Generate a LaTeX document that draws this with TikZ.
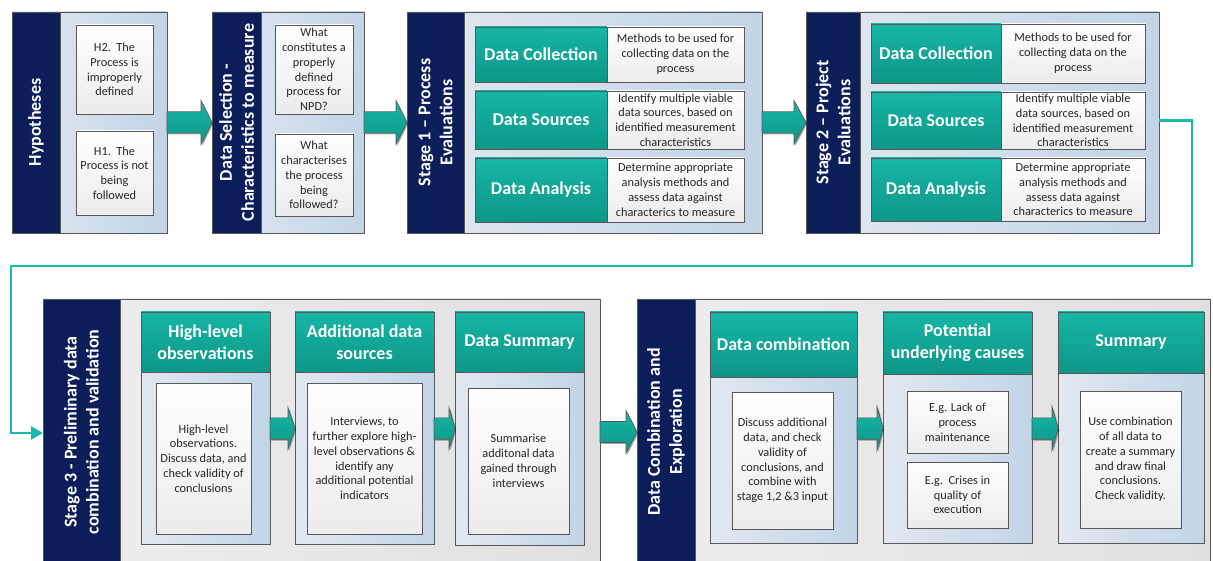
\documentclass[tikz,border=0pt]{standalone}
\usepackage{fontspec}
\setmainfont{Carlito}
\usetikzlibrary{calc,shadows,arrows.meta}
\definecolor{navy}{RGB}{12,30,90}
\definecolor{tealT}{RGB}{22,182,166}
\definecolor{tealB}{RGB}{13,150,135}
\definecolor{panL}{RGB}{226,232,240}
\definecolor{panR}{RGB}{194,212,231}
\definecolor{grayL}{RGB}{238,238,238}
\definecolor{grayR}{RGB}{224,224,224}
\definecolor{edge}{RGB}{88,88,88}
\definecolor{link}{RGB}{26,186,171}
\definecolor{wbot}{RGB}{236,236,236}
% #1 style, #2 name, #3 x1, #4 y1, #5 x2, #6 y2, #7 text
\newcommand\mybox[7]{%
  \node[#1, minimum width={(#5-#3)*1pt}, minimum height={(#6-#4)*1pt}] (#2) at ({(#3+#5)/2},{(#4+#6)/2}) {#7};}
\newcommand\blockarr[6]{%
  \path[barrow] ($(#1.east|-#3)+(0,#4)$) -- ($(#2.west|-#3)+(-#6,#4)$) -- ($(#2.west|-#3)+(-#6,#5)$) -- (#2.west|-#3) -- ($(#2.west|-#3)+(-#6,-#5)$) -- ($(#2.west|-#3)+(-#6,-#4)$) -- ($(#1.east|-#3)+(0,-#4)$) -- cycle;}
\tikzset{
  shd/.style={drop shadow={shadow xshift=1.3pt, shadow yshift=-1.3pt, opacity=0.35, fill=black}},
  box/.style={inner sep=0pt, outer sep=0pt, draw=edge, line width=0.8pt},
  outer/.style={box, left color=panL, right color=panR, shd},
  gouter/.style={box, left color=grayL, right color=grayR, shd},
  band/.style={box, fill=navy},
  vlab/.style={rotate=90, text=white, font=\bfseries\fontsize{18}{22}\selectfont, align=center, inner sep=0pt},
  tealbox/.style={box, top color=tealT, bottom color=tealB, text=white, font=\bfseries\fontsize{18}{22}\selectfont, align=center, shd},
  wbox/.style={box, top color=white, bottom color=wbot, font=\fontsize{12.3}{14.8}\selectfont, align=center, text=black!85, shd},
  colbody/.style={box, left color=panL, right color=panR, shd},
  barrow/.style={top color=tealT, bottom color=tealB, draw=edge, line width=0.6pt, shd},
  link/.style={draw=link, line width=2.7pt, -{Triangle[length=12pt,width=13pt]}}
}
\begin{document}
\begin{tikzpicture}[x=1pt,y=-1pt]
\useasboundingbox (0,0) rectangle (1213,561);
% ---------- top row ----------
% Hypotheses
\mybox{outer}{hyp}{12}{12}{167}{233}{}
\mybox{band}{hypB}{12}{12}{60}{233}{}
\node[vlab] (hypL) at (hypB.center) {Hypotheses};
\mybox{wbox}{h2}{76}{25}{153}{114}{H2.\ \ The\\Process is\\improperly\\defined}
\mybox{wbox}{h1}{76}{131}{153}{215}{H1.\ \ The\\Process is not\\being\\followed}
% Data selection
\mybox{outer}{dsel}{212}{12}{364}{233}{}
\mybox{band}{dselB}{212}{12}{261}{233}{}
\node[vlab] (dselL) at (dselB.center) {Data Selection -\\Characteristics to measure};
\mybox{wbox}{q1}{275}{25}{353}{114}{What\\constitutes a\\properly\\defined\\process for\\NPD?}
\mybox{wbox}{q2}{275}{134}{353}{216}{What\\characterises\\the process\\being\\followed?}
% Stage 1
\mybox{outer}{s1}{407}{12}{762}{233}{}
\mybox{band}{s1B}{407}{12}{464}{233}{}
\node[vlab] (s1L) at (s1B.center) {Stage 1 – Process\\Evaluations};
\mybox{tealbox}{s1dc}{475}{27}{607}{82}{Data Collection}
\mybox{wbox}{s1dcw}{607}{27}{744}{82}{Methods to be used for\\collecting data on the\\process}
\mybox{tealbox}{s1ds}{475}{91}{607}{149}{Data Sources}
\mybox{wbox}{s1dsw}{607}{91}{744}{149}{Identify multiple viable\\data sources, based on\\identified measurement\\characteristics}
\mybox{tealbox}{s1da}{475}{158}{607}{222}{Data Analysis}
\mybox{wbox}{s1daw}{607}{158}{744}{222}{Determine appropriate\\analysis methods and\\assess data against\\characterics to measure}
% Stage 2
\mybox{outer}{s2}{806}{12}{1159}{233}{}
\mybox{band}{s2B}{806}{12}{860}{233}{}
\node[vlab] (s2L) at (s2B.center) {Stage 2 – Project\\Evaluations};
\mybox{tealbox}{s2dc}{871}{24}{1001}{83}{Data Collection}
\mybox{wbox}{s2dcw}{1001}{24}{1145}{83}{Methods to be used for\\collecting data on the\\process}
\mybox{tealbox}{s2ds}{871}{92}{1001}{149}{Data Sources}
\mybox{wbox}{s2dsw}{1001}{92}{1145}{149}{Identify multiple viable\\data sources, based on\\identified measurement\\characteristics}
\mybox{tealbox}{s2da}{871}{158}{1001}{221}{Data Analysis}
\mybox{wbox}{s2daw}{1001}{158}{1145}{221}{Determine appropriate\\analysis methods and\\assess data against\\characterics to measure}
% ---------- bottom row ----------
% Stage 3
\mybox{gouter}{s3}{43}{299}{600}{566}{}
\mybox{band}{s3B}{43}{299}{120}{566}{}
\node[vlab] (s3L) at (81.5,432) {Stage 3 - Preliminary data\\combination and validation};
\mybox{colbody}{hlB}{141}{372}{270}{544}{}
\mybox{tealbox}{hlH}{141}{312}{270}{372}{High-level\\observations}
\mybox{wbox}{hlW}{156}{383}{251}{534}{High-level\\observations.\\Discuss data, and\\check validity of\\conclusions}
\mybox{colbody}{adB}{295}{372}{434}{544}{}
\mybox{tealbox}{adH}{295}{312}{434}{372}{Additional data\\sources}
\mybox{wbox}{adW}{307}{383}{422}{534}{Interviews, to\\further explore high-\\level observations \&\\identify any\\additional potential\\indicators}
\mybox{colbody}{dsB}{455}{372}{584}{545}{}
\mybox{tealbox}{dsH}{455}{312}{584}{372}{Data Summary}
\mybox{wbox}{dsW}{468}{388}{569}{534}{Summarise\\additonal data\\gained through\\interviews}
% Data combination and exploration
\mybox{gouter}{s6}{637}{299}{1210}{566}{}
\mybox{band}{s6B}{637}{299}{695}{566}{}
\node[vlab] (s6L) at (666,432) {Data Combination and\\Exploration};
\mybox{colbody}{dcB}{710}{377}{857}{543}{}
\mybox{tealbox}{dcH}{710}{312}{857}{377}{Data combination}
\mybox{wbox}{dcW}{732}{392}{833}{529}{Discuss additional\\data, and check\\validity of\\conclusions, and\\combine with\\stage 1,2 \&3 input}
\mybox{colbody}{puB}{883}{374}{1032}{543}{}
\mybox{tealbox}{puH}{883}{312}{1032}{374}{Potential\\underlying causes}
\mybox{wbox}{puW1}{907}{391}{1008}{453}{E.g. Lack of\\process\\maintenance}
\mybox{wbox}{puW2}{907}{462}{1008}{528}{E.g.\ \ Crises in\\quality of\\execution}
\mybox{colbody}{suB}{1058}{373}{1204}{543}{}
\mybox{tealbox}{suH}{1058}{312}{1204}{373}{Summary}
\mybox{wbox}{suW}{1080}{391}{1181}{528}{Use combination\\of all data to\\create a summary\\and draw final\\conclusions.\\Check validity.}
% ---------- block arrows ----------
\coordinate (ya) at (0,122.5);
\coordinate (yb) at (0,428.5);
\coordinate (yc) at (0,432);
\blockarr{hyp}{dsel}{ya}{10.7}{22}{11}
\blockarr{dsel}{s1}{ya}{10.7}{22}{11}
\blockarr{s1}{s2}{ya}{10.7}{22}{12}
\blockarr{hlB}{adB}{yb}{10.7}{21}{7}
\blockarr{adB}{dsB}{yb}{10.7}{21}{6}
\blockarr{s3}{s6}{yc}{10.5}{21.5}{11}
\blockarr{dcB}{puB}{yb}{10.7}{22}{6}
\blockarr{puB}{suB}{yb}{10.7}{22}{6}
% ---------- connector stage 2 -> stage 3 ----------
\coordinate (k1) at (1192,266);
\coordinate (k2) at (11,266);
\coordinate (k3) at (0,433);
\draw[link] (s2.east |- s2ds) -| (k1) -- (k2) |- (s3.west |- k3);
\end{tikzpicture}
\end{document}
